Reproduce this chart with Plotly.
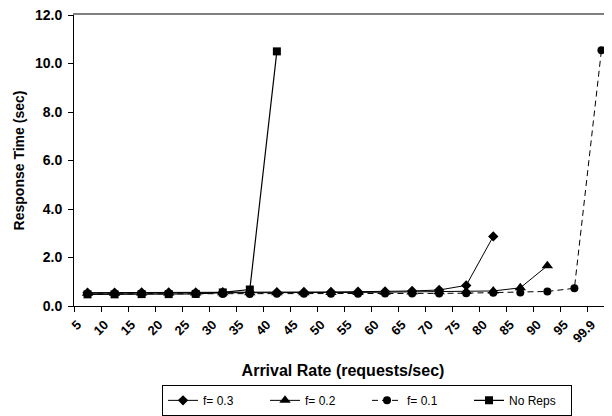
import plotly.graph_objects as go

categories = ["5", "10", "15", "20", "25", "30", "35", "40", "45", "50",
              "55", "60", "65", "70", "75", "80", "85", "90", "95", "99.9"]

f03 = [0.55, 0.55, 0.56, 0.56, 0.56, 0.57, 0.57, 0.57, 0.58, 0.58,
       0.59, 0.60, 0.62, 0.66, 0.85, 2.87]
f02 = [0.53, 0.53, 0.54, 0.54, 0.54, 0.55, 0.55, 0.55, 0.55, 0.56,
       0.56, 0.57, 0.58, 0.59, 0.60, 0.62, 0.75, 1.66]
f01 = [0.50, 0.50, 0.50, 0.50, 0.50, 0.50, 0.49, 0.51, 0.51, 0.51,
       0.51, 0.52, 0.52, 0.52, 0.53, 0.55, 0.56, 0.60, 0.73, 10.55]
noreps = [0.48, 0.48, 0.49, 0.49, 0.50, 0.56, 0.68, 10.50]

yticks = [0, 2, 4, 6, 8, 10, 12]

FONT = "Liberation Sans, Arial, sans-serif"

fig = go.Figure()
fig.add_trace(go.Scatter(x=categories[:len(f03)], y=f03, name="f= 0.3",
                         mode="lines+markers", cliponaxis=False,
                         line=dict(color="black", width=1),
                         marker=dict(symbol="diamond", size=8, color="black")))
fig.add_trace(go.Scatter(x=categories[:len(f02)], y=f02, name="f= 0.2",
                         mode="lines+markers", cliponaxis=False,
                         line=dict(color="black", width=1),
                         marker=dict(symbol="triangle-up", size=10, color="black")))
fig.add_trace(go.Scatter(x=categories[:len(f01)], y=f01, name="f= 0.1",
                         mode="lines+markers", cliponaxis=False,
                         line=dict(color="black", width=1, dash="6px,4px"),
                         marker=dict(symbol="circle", size=8, color="black")))
fig.add_trace(go.Scatter(x=categories[:len(noreps)], y=noreps, name="No Reps",
                         mode="lines+markers", cliponaxis=False,
                         line=dict(color="black", width=1.2),
                         marker=dict(symbol="square", size=8, color="black")))

# page body adds an 8px offset, so the figure is 8px smaller and margins shifted
fig.update_layout(
    width=604, height=408,
    margin=dict(l=66, r=0, t=7, b=110, autoexpand=False),
    paper_bgcolor="white", plot_bgcolor="white",
    font=dict(family=FONT, color="black"),
    xaxis=dict(
        type="category", categoryorder="array", categoryarray=categories,
        range=[-0.5, 19.39], automargin=False,
        tickangle=-45, tickson="boundaries", ticklabelshift=-10,
        ticklabelstandoff=5,
        ticks="outside", ticklen=5, tickcolor="black",
        showline=True, linecolor="black", linewidth=1,
        showgrid=False, zeroline=False,
        tickfont=dict(family=FONT, size=13, color="black", weight="bold"),
        title=dict(text="<b>Arrival Rate (requests/sec)</b>",
                   font=dict(family=FONT, size=16, color="black"), standoff=20),
    ),
    xaxis2=dict(
        overlaying="x", side="top", matches="x", type="category",
        showline=True, linecolor="#808080", linewidth=2,
        showticklabels=False, ticks="", showgrid=False, zeroline=False,
        automargin=False,
    ),
    yaxis=dict(
        range=[0, 12], tickvals=yticks, tickformat=".1f", automargin=False,
        ticklabeloverflow="allow", ticklabelstandoff=3,
        ticks="outside", ticklen=5, tickcolor="black",
        showline=True, linecolor="black", linewidth=1,
        showgrid=False, zeroline=False,
        tickfont=dict(family=FONT, size=14, color="black", weight="bold"),
        title=dict(text="<b>Response Time (sec)</b>",
                   font=dict(family=FONT, size=14, color="black"), standoff=7),
    ),
    legend=dict(
        orientation="h", x=0.1636, xanchor="left", y=-0.271, yanchor="top",
        bordercolor="black", borderwidth=1, bgcolor="white",
        font=dict(family=FONT, size=12, color="black"),
        entrywidth=57, itemwidth=30,
    ),
    showlegend=True,
)

# invisible helper trace so the top frame axis is drawn
fig.add_trace(go.Scatter(x=[categories[0]], y=[None], xaxis="x2", yaxis="y",
                         showlegend=False, hoverinfo="skip"))

fig.write_html("out.html")
